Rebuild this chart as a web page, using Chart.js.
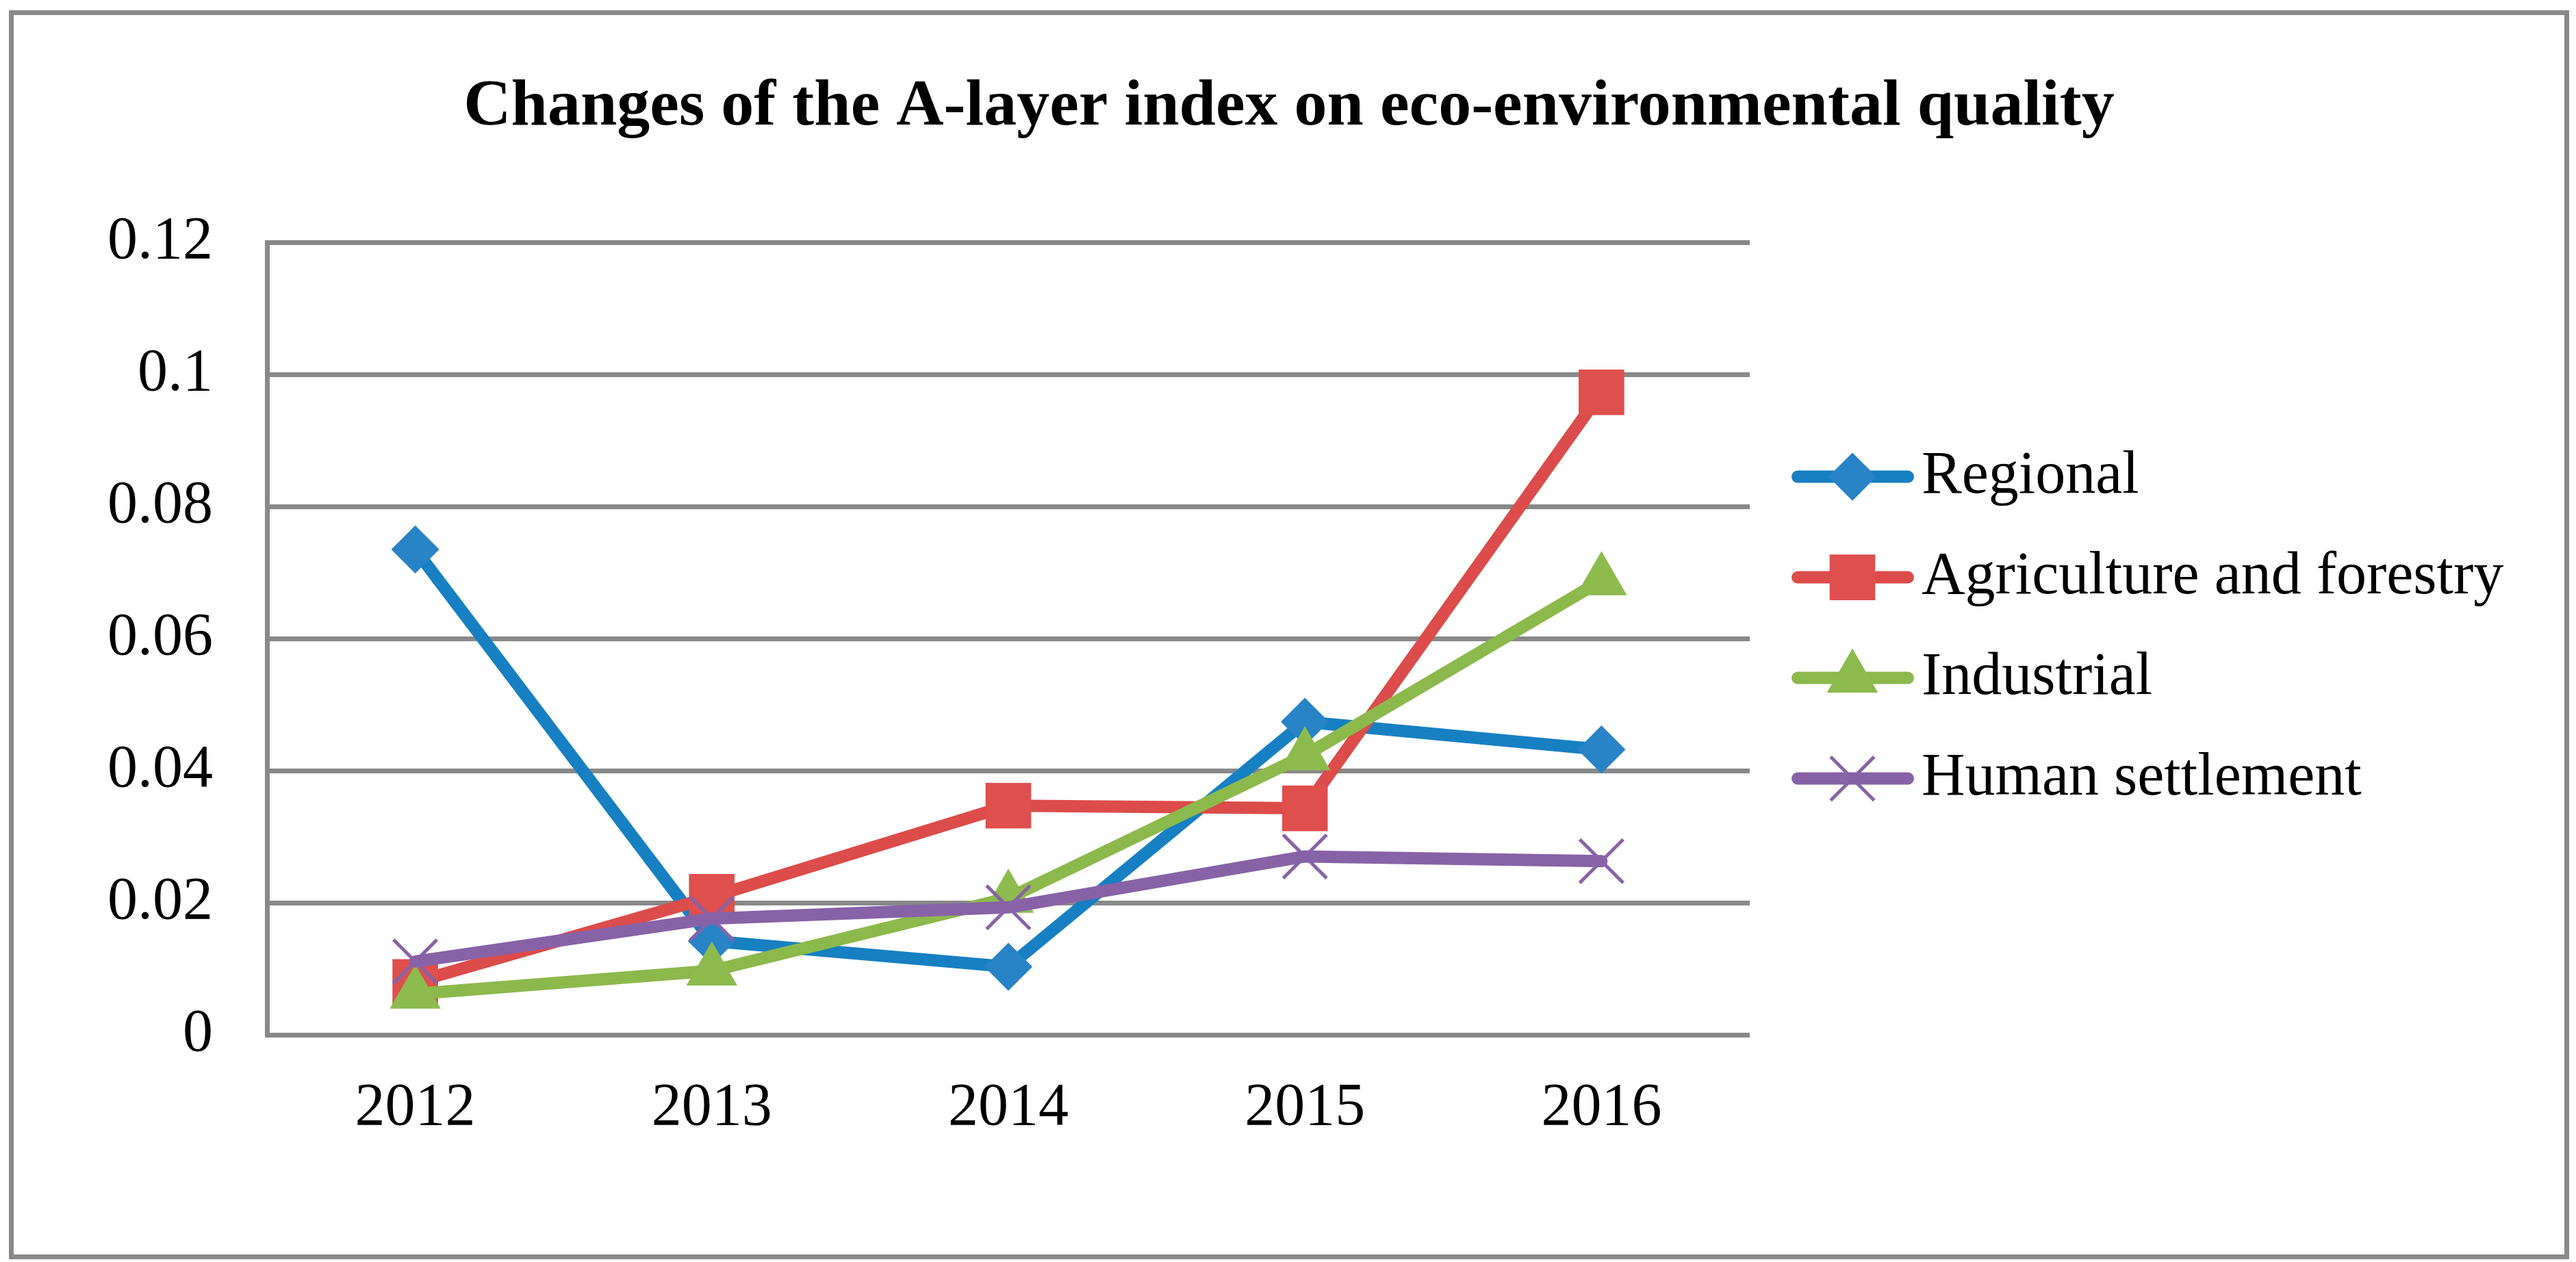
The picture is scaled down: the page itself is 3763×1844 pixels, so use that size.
<!DOCTYPE html>
<html lang="en">
<head>
<meta charset="UTF-8">
<title>Changes of the A-layer index on eco-environmental quality</title>
<script src="https://cdn.jsdelivr.net/npm/chart.js@4"></script>
<style>
  html, body { margin: 0; padding: 0; background: #fff; }
  .frame {
    position: absolute; left: 13px; top: 15px;
    width: 3740px; height: 1825px;
    box-sizing: border-box;
    border: 7px solid #898989;
    background: #fff;
  }
  .frame canvas { display: block; }
</style>
</head>
<body>
<div class="frame"><canvas id="chart"></canvas></div>
<script>
// data
const years = ['2012', '2013', '2014', '2015', '2016'];
const seriesNames = ['Regional', 'Agriculture and forestry', 'Industrial', 'Human settlement'];
const regional    = [0.0735, 0.0142, 0.0103, 0.0474, 0.0432];
const agriculture = [0.0080, 0.0209, 0.0347, 0.0343, 0.0973];
const industrial  = [0.0062, 0.0097, 0.0207, 0.0423, 0.0688];
const settlement  = [0.0111, 0.0176, 0.0193, 0.0270, 0.0263];
const yMin = 0, yMax = 0.12, yStep = 0.02;

const FONT = '"Liberation Serif", "Times New Roman", serif';

function series(label, data, color, pointColor, style, radius, pbw, order) {
  return {
    label: label,
    data: data,
    borderColor: color,
    backgroundColor: pointColor,
    borderWidth: 18,
    borderJoinStyle: 'round',
    borderCapStyle: 'round',
    tension: 0,
    pointStyle: style,
    pointRadius: radius,
    pointHoverRadius: radius,
    pointBackgroundColor: pointColor,
    pointBorderColor: pointColor,
    pointBorderWidth: pbw,
    clip: false,
    order: order
  };
}

// marker shapes for the legend, same geometry as Chart.js point styles
function marker(ctx, style, x, y, r) {
  const s = Math.SQRT1_2 * r;
  ctx.beginPath();
  if (style === 'rect') {
    ctx.rect(x - s, y - s, 2 * s, 2 * s);
    ctx.fill(); ctx.stroke();
  } else if (style === 'rectRot') {
    ctx.moveTo(x, y - r); ctx.lineTo(x + r, y); ctx.lineTo(x, y + r); ctx.lineTo(x - r, y);
    ctx.closePath(); ctx.fill(); ctx.stroke();
  } else if (style === 'triangle') {
    const w = Math.sin(Math.PI / 3) * r;
    ctx.moveTo(x, y - r); ctx.lineTo(x + w, y + r / 2); ctx.lineTo(x - w, y + r / 2);
    ctx.closePath(); ctx.fill(); ctx.stroke();
  } else if (style === 'crossRot') {
    ctx.moveTo(x - s, y - s); ctx.lineTo(x + s, y + s);
    ctx.moveTo(x - s, y + s); ctx.lineTo(x + s, y - s);
    ctx.stroke();
  }
}

// legend drawn as line + marker, in the space kept free by the blank right axis
const lineLegend = {
  id: 'lineLegend',
  afterDraw(chart) {
    const ctx = chart.ctx;
    const area = chart.chartArea;
    const x0 = area.right + 61;
    const mid = (area.top + area.bottom) / 2 - 16;
    ctx.save();
    chart.data.datasets.forEach((ds, i) => {
      const y = mid + (i - 1.5) * 147;
      ctx.strokeStyle = ds.borderColor;
      ctx.lineWidth = ds.borderWidth;
      ctx.lineCap = 'round';
      ctx.beginPath();
      ctx.moveTo(x0 + 9, y);
      ctx.lineTo(x0 + 170, y);
      ctx.stroke();
      ctx.fillStyle = ds.pointBackgroundColor;
      ctx.strokeStyle = ds.pointBorderColor;
      ctx.lineWidth = ds.pointBorderWidth;
      ctx.lineCap = 'butt';
      marker(ctx, ds.pointStyle, x0 + 89, y, ds.pointRadius);
      ctx.fillStyle = '#000';
      ctx.font = '88px ' + FONT;
      ctx.textAlign = 'left';
      ctx.textBaseline = 'middle';
      ctx.fillText(ds.label, x0 + 190, y);
    });
    ctx.restore();
  }
};

new Chart(document.getElementById('chart'), {
  type: 'line',
  data: {
    labels: years,
    datasets: [
      series(seriesNames[0], regional, '#1780C2', '#2884C6', 'rectRot', 33, 3, 4),
      series(seriesNames[1], agriculture, '#DC4C4A', '#DE4F4D', 'rect', 45, 3, 3),
      series(seriesNames[2], industrial, '#8CB94C', '#8DBB4E', 'triangle', 40, 3, 2),
      series(seriesNames[3], settlement, '#8862A7', '#8862A7', 'crossRot', 45, 5, 1)
    ]
  },
  options: {
    responsive: true,
    maintainAspectRatio: false,
    animation: false,
    plugins: {
      legend: { display: false },
      tooltip: { enabled: false },
      title: {
        display: true,
        text: 'Changes of the A-layer index on eco-environmental quality',
        color: '#000',
        font: { family: FONT, size: 96, weight: 'bold' },
        padding: { top: 78, bottom: 139 }
      }
    },
    scales: {
      x: {
        offset: true,
        grid: { display: false },
        border: { display: false },
        ticks: { color: '#000', font: { family: FONT, size: 88 }, padding: 47, maxRotation: 0 },
        afterFit: (s) => { s.height = 321; }
      },
      y: {
        min: yMin,
        max: yMax,
        grid: { color: '#898989', lineWidth: 7, drawTicks: false },
        border: { display: true, color: '#898989', width: 7 },
        ticks: {
          stepSize: yStep,
          color: '#000',
          font: { family: FONT, size: 88 },
          padding: 79,
          callback: (v) => String(Number(v.toFixed(2)))
        },
        afterFit: (s) => { s.width = 370; }
      },
      legendSpace: {
        type: 'linear',
        position: 'right',
        display: true,
        grid: { display: false },
        border: { display: false },
        ticks: { display: false },
        afterFit: (s) => { s.width = 1190; }
      }
    }
  },
  plugins: [lineLegend]
});
</script>
</body>
</html>
